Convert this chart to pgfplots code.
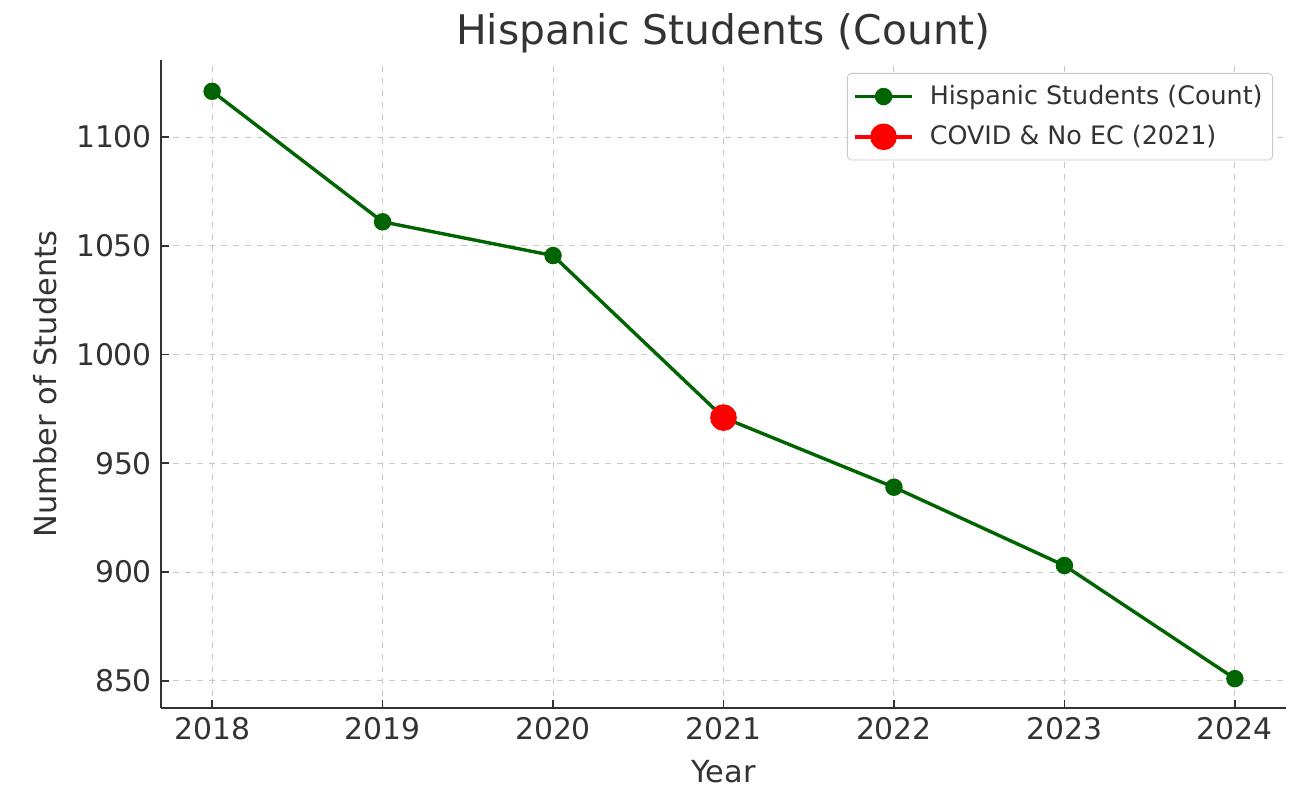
\documentclass[border=0pt]{standalone}
\usepackage{pgfplots}
\pgfplotsset{compat=1.18}
\usepackage{fontspec}
\setmainfont{DejaVu Sans}

\definecolor{txt}{HTML}{333333}
\definecolor{spine}{HTML}{333333}
\definecolor{hgreen}{RGB}{0,100,0}
\definecolor{gridc}{HTML}{C8C8C8}

\begin{document}
\begin{tikzpicture}
\begin{axis}[
  scale only axis,
  width=562.5pt, height=324pt,
  xmin=2017.7, xmax=2024.3,
  ymin=837.5, ymax=1135.4,
  xtick={2018,2019,2020,2021,2022,2023,2024},
  ytick={850,900,950,1000,1050,1100},
  /pgf/number format/assume math mode=true,
  /pgf/number format/1000 sep={},
  axis x line*=bottom, axis y line*=left,
  axis line style={-, spine, line width=0.9pt},
  tick align=inside,
  major tick length=4pt,
  tick style={spine, line width=0.8pt},
  grid=major,
  grid style={gridc, dashed, line width=0.5pt},
  ticklabel style={font=\fontsize{14.9pt}{17pt}\selectfont, text=txt},
  xticklabel style={yshift=-1pt},
  yticklabel style={xshift=-1pt},
  xlabel={Year}, ylabel={Number of Students},
  label style={font=\fontsize{15.2pt}{17pt}\selectfont, text=txt},
  xlabel style={yshift=-3.5pt},
  ylabel style={yshift=2.5pt},
  title={Hispanic Students (Count)},
  title style={font=\fontsize{20.4pt}{24pt}\selectfont, text=txt, yshift=-6pt},
  legend cell align=left,
  legend image code/.code={\draw[mark repeat=2, mark phase=2] plot coordinates {(0pt,0pt)(14.25pt,0pt)(28.5pt,0pt)};},
  legend style={at={(1,1)}, anchor=north east, xshift=-6.5pt, yshift=-6.5pt,
    draw=gridc, rounded corners=2pt, fill=white,
    font=\fontsize{12.7pt}{15pt}\selectfont, text=txt,
    row sep=5pt, column sep=6pt, inner xsep=3pt, inner ysep=4pt},
]
\addplot[hgreen, line width=1.7pt, mark=*, mark size=3.5pt, mark options={fill=hgreen, draw=hgreen}]
  coordinates {(2018,1121)(2019,1061)(2020,1045.5)(2021,971)(2022,939)(2023,903)(2024,851)};
\addlegendentry{Hispanic Students (Count)}
\addplot[red, line width=1.7pt, mark=*, mark size=5.8pt, mark options={fill=red, draw=red}]
  coordinates {(2021,971)};
\addlegendentry{COVID \& No EC (2021)}
\end{axis}
\pgfresetboundingbox
\useasboundingbox ([shift={(-80.5pt,-40pt)}]current axis.south west) rectangle ([shift={(14.5pt,30pt)}]current axis.north east);
\end{tikzpicture}
\end{document}
